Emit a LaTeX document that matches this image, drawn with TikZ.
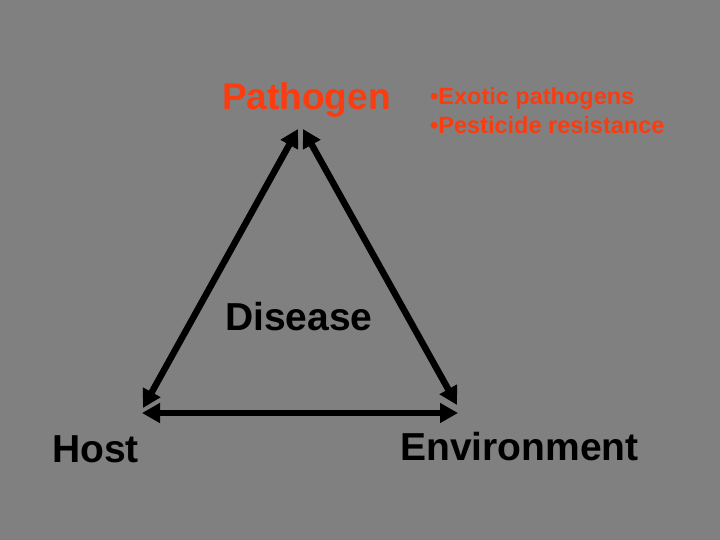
\documentclass[tikz,border=0pt]{standalone}
\usepackage{fontspec}
\setmainfont{Liberation Sans}
\usepackage{tikz}
\usetikzlibrary{arrows.meta}
\definecolor{pathred}{RGB}{250,60,15}
\definecolor{slidegray}{RGB}{128,128,128}
\tikzset{
  bigword/.style={anchor=base west,font=\fontsize{39}{47}\selectfont\bfseries},
  pathword/.style={anchor=base west,text=pathred,font=\fontsize{37}{44}\selectfont\bfseries},
  bullettext/.style={anchor=base west,text=pathred,align=left,font=\fontsize{23.5}{29}\selectfont\bfseries},
  link/.style={<->,line width=6.5pt}
}
\begin{document}
\begin{tikzpicture}[line cap=butt,line join=miter,>={Triangle[length=18pt,width=19pt]},x=1pt,y=-1pt]
  \fill[slidegray] (0,0) rectangle (720,540);
  \useasboundingbox (0,0) rectangle (720,540);
  % labels
  \node[pathword,inner sep=0pt] (pathogen) at (222,110) {Pathogen};
  \node[bullettext,inner sep=0pt] (exotic) at (430,105) {•Exotic pathogens};
  \node[bullettext,inner sep=0pt] (pesticide) at (430,134) {•Pesticide resistance};
  \node[bigword,inner sep=0pt] (disease) at (225,330) {Disease};
  \node[bigword,inner sep=0pt] (host) at (52,462) {Host};
  \node[bigword,inner sep=0pt] (environment) at (400,460) {Environment};
  % arrow ends
  \coordinate (pathL) at (298,129);
  \coordinate (pathR) at (303,129);
  \coordinate (hostT) at (143,408);
  \coordinate (envT) at (457,405);
  \coordinate (hostB) at (142,413);
  \coordinate (envB) at (458,413);
  % triangle
  \draw[link] (pathL) -- (hostT);
  \draw[link] (pathR) -- (envT);
  \draw[link] (hostB) -- (envB);
\end{tikzpicture}
\end{document}
